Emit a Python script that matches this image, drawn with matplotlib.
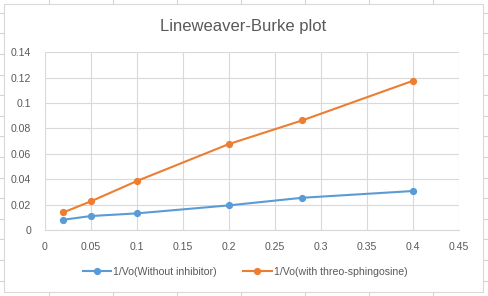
import matplotlib
matplotlib.use("Agg")
import matplotlib.pyplot as plt
from matplotlib.lines import Line2D
from matplotlib.patches import Rectangle

# Data
substrate_inv = [0.02, 0.05, 0.1, 0.2, 0.28, 0.4]
without_inhibitor = [0.0081, 0.0110, 0.0131, 0.0194, 0.0254, 0.0307]
with_threo = [0.0139, 0.0226, 0.0386, 0.0677, 0.0864, 0.1175]
series_labels = ["1/Vo(Without inhibitor)", "1/Vo(with threo-sphingosine)"]
title = "Lineweaver-Burke plot"
x_ticks = [0, 0.05, 0.1, 0.15, 0.2, 0.25, 0.3, 0.35, 0.4, 0.45]
x_tick_labels = ["0", "0.05", "0.1", "0.15", "0.2", "0.25", "0.3", "0.35", "0.4", "0.45"]
y_ticks = [0, 0.02, 0.04, 0.06, 0.08, 0.1, 0.12, 0.14]
y_tick_labels = ["0", "0.02", "0.04", "0.06", "0.08", "0.1", "0.12", "0.14"]

W, H = 489, 296
plt.rcParams['font.family'] = ['Liberation Sans', 'DejaVu Sans']
fig = plt.figure(figsize=(W / 100, H / 100), dpi=100)
fig.patch.set_facecolor('white')

def px(x, y):
    return x / W, 1 - y / H

# spreadsheet grid behind the chart
grid_c = '#d4d4d4'
for gx in [49, 113, 177, 241, 305, 369, 433]:
    fig.add_artist(Line2D([gx / W, gx / W], [0, 1], color=grid_c, lw=0.8, zorder=0))
for k in range(15):
    gy = 12.8 + 20.6 * k
    fig.add_artist(Line2D([0, 1], [1 - gy / H, 1 - gy / H], color=grid_c, lw=0.8, zorder=0))

# chart area
x0, y0 = px(4, 291.7)
x1, y1 = px(483, 4.3)
fig.add_artist(Rectangle((x0, y0), x1 - x0, y1 - y0, transform=fig.transFigure,
                         facecolor='white', edgecolor='#d9d9d9', lw=0.8, zorder=0.5))

left, right = 45, 458.7
top, bottom = 52.3, 230
ax = fig.add_axes([left / W, 1 - bottom / H, (right - left) / W, (bottom - top) / H])
ax.set_zorder(2)
ax.patch.set_alpha(0)

blue = '#5b9bd5'
orange = '#ed7d31'
ax.plot(substrate_inv, without_inhibitor, color=blue, lw=1.5, marker='o', ms=4.2,
        label=series_labels[0], zorder=3, clip_on=False)
ax.plot(substrate_inv, with_threo, color=orange, lw=1.5, marker='o', ms=4.2,
        label=series_labels[1], zorder=3, clip_on=False)

ax.set_xlim(0, 0.45)
ax.set_ylim(0, 0.14)
ax.set_xticks(x_ticks)
ax.set_xticklabels(x_tick_labels)
ax.set_yticks(y_ticks)
ax.set_yticklabels(y_tick_labels)
ax.grid(True, color='#d9d9d9', lw=0.8)
ax.set_axisbelow(True)
for s in ['left', 'right', 'top']:
    ax.spines[s].set_visible(False)
ax.spines['bottom'].set_color('#d9d9d9')
ax.spines['bottom'].set_linewidth(0.8)
ax.tick_params(length=0, colors='#595959', labelsize=7.6, pad=9)
ax.tick_params(axis='y', pad=10)

fig.text(243.5 / W, 1 - 27 / H, title, ha='center', va='center', fontsize=12, color='#595959')

fig.legend(loc='center', bbox_to_anchor=(px(245, 272)), ncol=2, frameon=False,
           fontsize=7.6, labelcolor='#595959', handlelength=2.7, handletextpad=0.2,
           columnspacing=2.5)

fig.savefig('out.png', dpi=100)
